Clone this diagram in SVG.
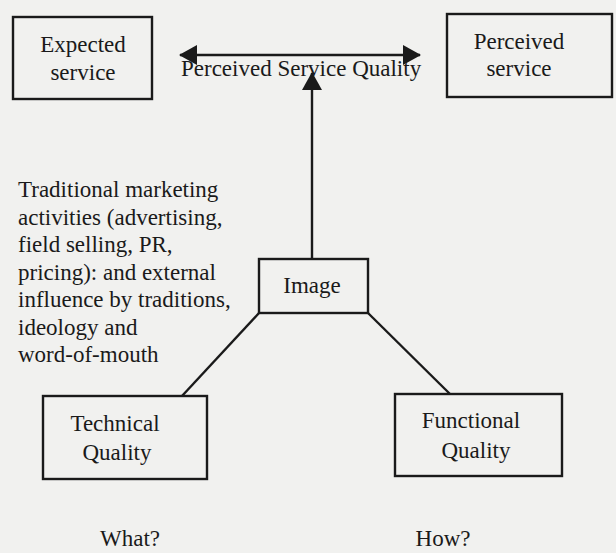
<svg xmlns="http://www.w3.org/2000/svg" width="616" height="553" viewBox="0 0 616 553">
<style>
  .box { fill: none; stroke: #1a1a1a; stroke-width: 2.4; }
  .t { font-family: "Liberation Serif", "Times New Roman", serif; font-size: 23px; fill: #1a1a1a; }
  .c { text-anchor: middle; }
  .ln { stroke: #1a1a1a; stroke-width: 2.4; fill: none; }
</style>
<defs>
  <marker id="ah" viewBox="0 0 18 20" refX="17" refY="10" markerWidth="18" markerHeight="20" markerUnits="userSpaceOnUse" orient="auto-start-reverse">
    <path d="M0,0 L18,10 L0,20 Z" fill="#1a1a1a"/>
  </marker>
</defs>
<rect width="616" height="553" fill="#f1f1ef"/>
<g id="connectors">
  <line class="ln" x1="180" y1="55" x2="420" y2="55" marker-start="url(#ah)" marker-end="url(#ah)"/>
  <line class="ln" x1="312" y1="259" x2="312" y2="73" marker-end="url(#ah)"/>
  <line class="ln" x1="259" y1="313" x2="182" y2="396"/>
  <line class="ln" x1="368" y1="313" x2="450" y2="394"/>
</g>
<g id="expected">
  <rect class="box" x="13" y="17" width="139" height="82"/>
  <text class="t c" x="83" y="52">Expected</text>
  <text class="t c" x="83" y="80">service</text>
</g>
<g id="perceived">
  <rect class="box" x="447" y="14" width="165" height="83"/>
  <text class="t c" x="519" y="49">Perceived</text>
  <text class="t c" x="519" y="76">service</text>
</g>
<g id="psq">
  <text class="t" x="181" y="76">Perceived Service Quality</text>
</g>
<g id="traditional">
  <text class="t" x="18" y="197">Traditional marketing</text>
  <text class="t" x="18" y="224.5">activities (advertising,</text>
  <text class="t" x="18" y="252">field selling, PR,</text>
  <text class="t" x="18" y="279.5">pricing): and external</text>
  <text class="t" x="18" y="307">influence by traditions,</text>
  <text class="t" x="18" y="334.5">ideology and</text>
  <text class="t" x="18" y="362">word-of-mouth</text>
</g>
<g id="image">
  <rect class="box" x="259" y="259" width="109" height="54"/>
  <text class="t c" x="312" y="293">Image</text>
</g>
<g id="technical">
  <rect class="box" x="43" y="396" width="164" height="83"/>
  <text class="t c" x="115" y="431">Technical</text>
  <text class="t c" x="117" y="460">Quality</text>
</g>
<g id="functional">
  <rect class="box" x="395" y="394" width="167" height="82"/>
  <text class="t c" x="471" y="428">Functional</text>
  <text class="t c" x="476" y="458">Quality</text>
</g>
<g id="what">
  <text class="t c" x="130" y="546">What?</text>
</g>
<g id="how">
  <text class="t c" x="443" y="546">How?</text>
</g>
</svg>
